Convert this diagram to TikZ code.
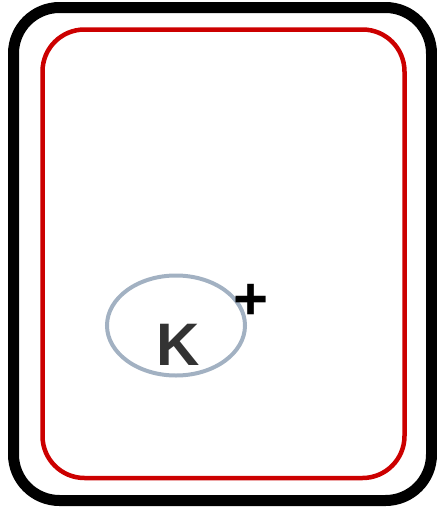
\documentclass[tikz,border=0pt]{standalone}
\usepackage{fontspec}
\setmainfont{Liberation Sans}
\definecolor{ringgray}{HTML}{A2B1C2}
\definecolor{darktext}{HTML}{333333}
\definecolor{boxred}{HTML}{CC0000}
\begin{document}
\begin{tikzpicture}[x=1pt,y=-1pt,
  outerbox/.style={draw=black,line width=11pt,rounded corners=46pt},
  innerbox/.style={draw=boxred,line width=4.5pt,rounded corners=42pt},
  ring/.style={draw=ringgray,line width=4pt},
  bigtext/.style={font=\fontsize{60}{60}\selectfont\bfseries,inner sep=0pt}]
\useasboundingbox (0,0) rectangle (437,507);
\draw[outerbox] (13.5,7.5) rectangle (431.5,500.5);
\draw[innerbox] (42.5,29.5) rectangle (404.5,478);
\draw[ring] (176,325.5) ellipse [x radius=69, y radius=50];
\node[bigtext,text=darktext,anchor=base] (k) at (178,365) {K};
\node[bigtext,text=black] (plus) at (251,302) {+};
\end{tikzpicture}
\end{document}
